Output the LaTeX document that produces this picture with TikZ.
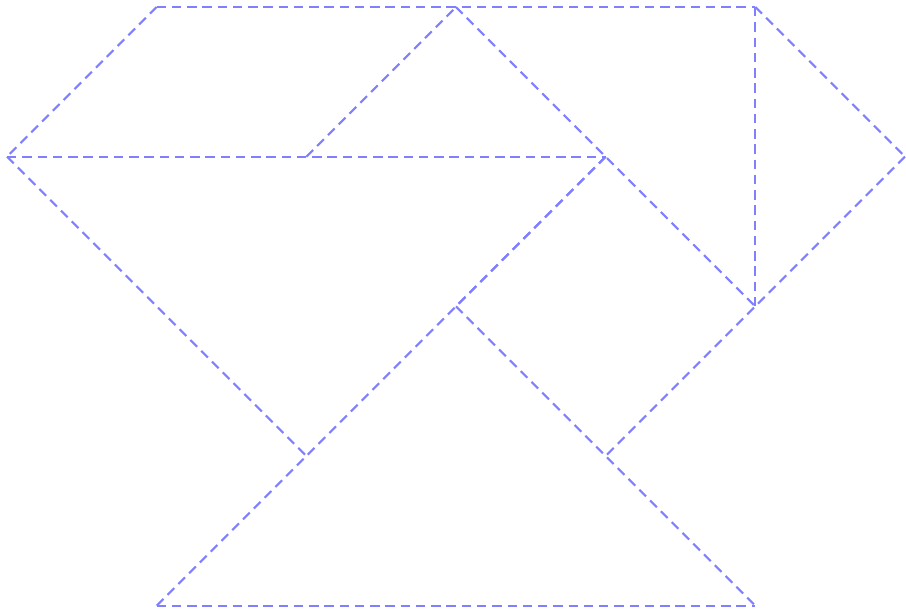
\documentclass[tikz,border=0pt]{standalone}
\begin{document}
\begin{tikzpicture}[x=2cm,y=-2cm,
  tan/.style={draw=blue!50, line width=0.8pt, dash pattern=on 3.6pt off 2.2pt}]
\useasboundingbox (-0.047,-0.047) rectangle (6.007,4.047);
\coordinate (A) at (1,0);
\coordinate (B) at (3,0);
\coordinate (C) at (5,0);
\coordinate (D) at (0,1);
\coordinate (E) at (2,1);
\coordinate (F) at (4,1);
\coordinate (G) at (6,1);
\coordinate (H) at (5,2);
\coordinate (I) at (3,2);
\coordinate (J) at (2,3);
\coordinate (K) at (4,3);
\coordinate (L) at (1,4);
\coordinate (M) at (5,4);
\draw[tan] (A) -- (B) -- (C);
\draw[tan] (A) -- (D);
\draw[tan] (D) -- (E) -- (F);
\draw[tan] (E) -- (B);
\draw[tan] (B) -- (F) -- (H);
\draw[tan] (C) -- (H);
\draw[tan] (C) -- (G);
\draw[tan] (G) -- (H) -- (K);
\draw[tan] (D) -- (J);
\draw[tan] (F) -- (I);
\draw[tan] (F) -- (I) -- (J) -- (L);
\draw[tan] (I) -- (K) -- (M);
\draw[tan] (L) -- (M);
\end{tikzpicture}
\end{document}
